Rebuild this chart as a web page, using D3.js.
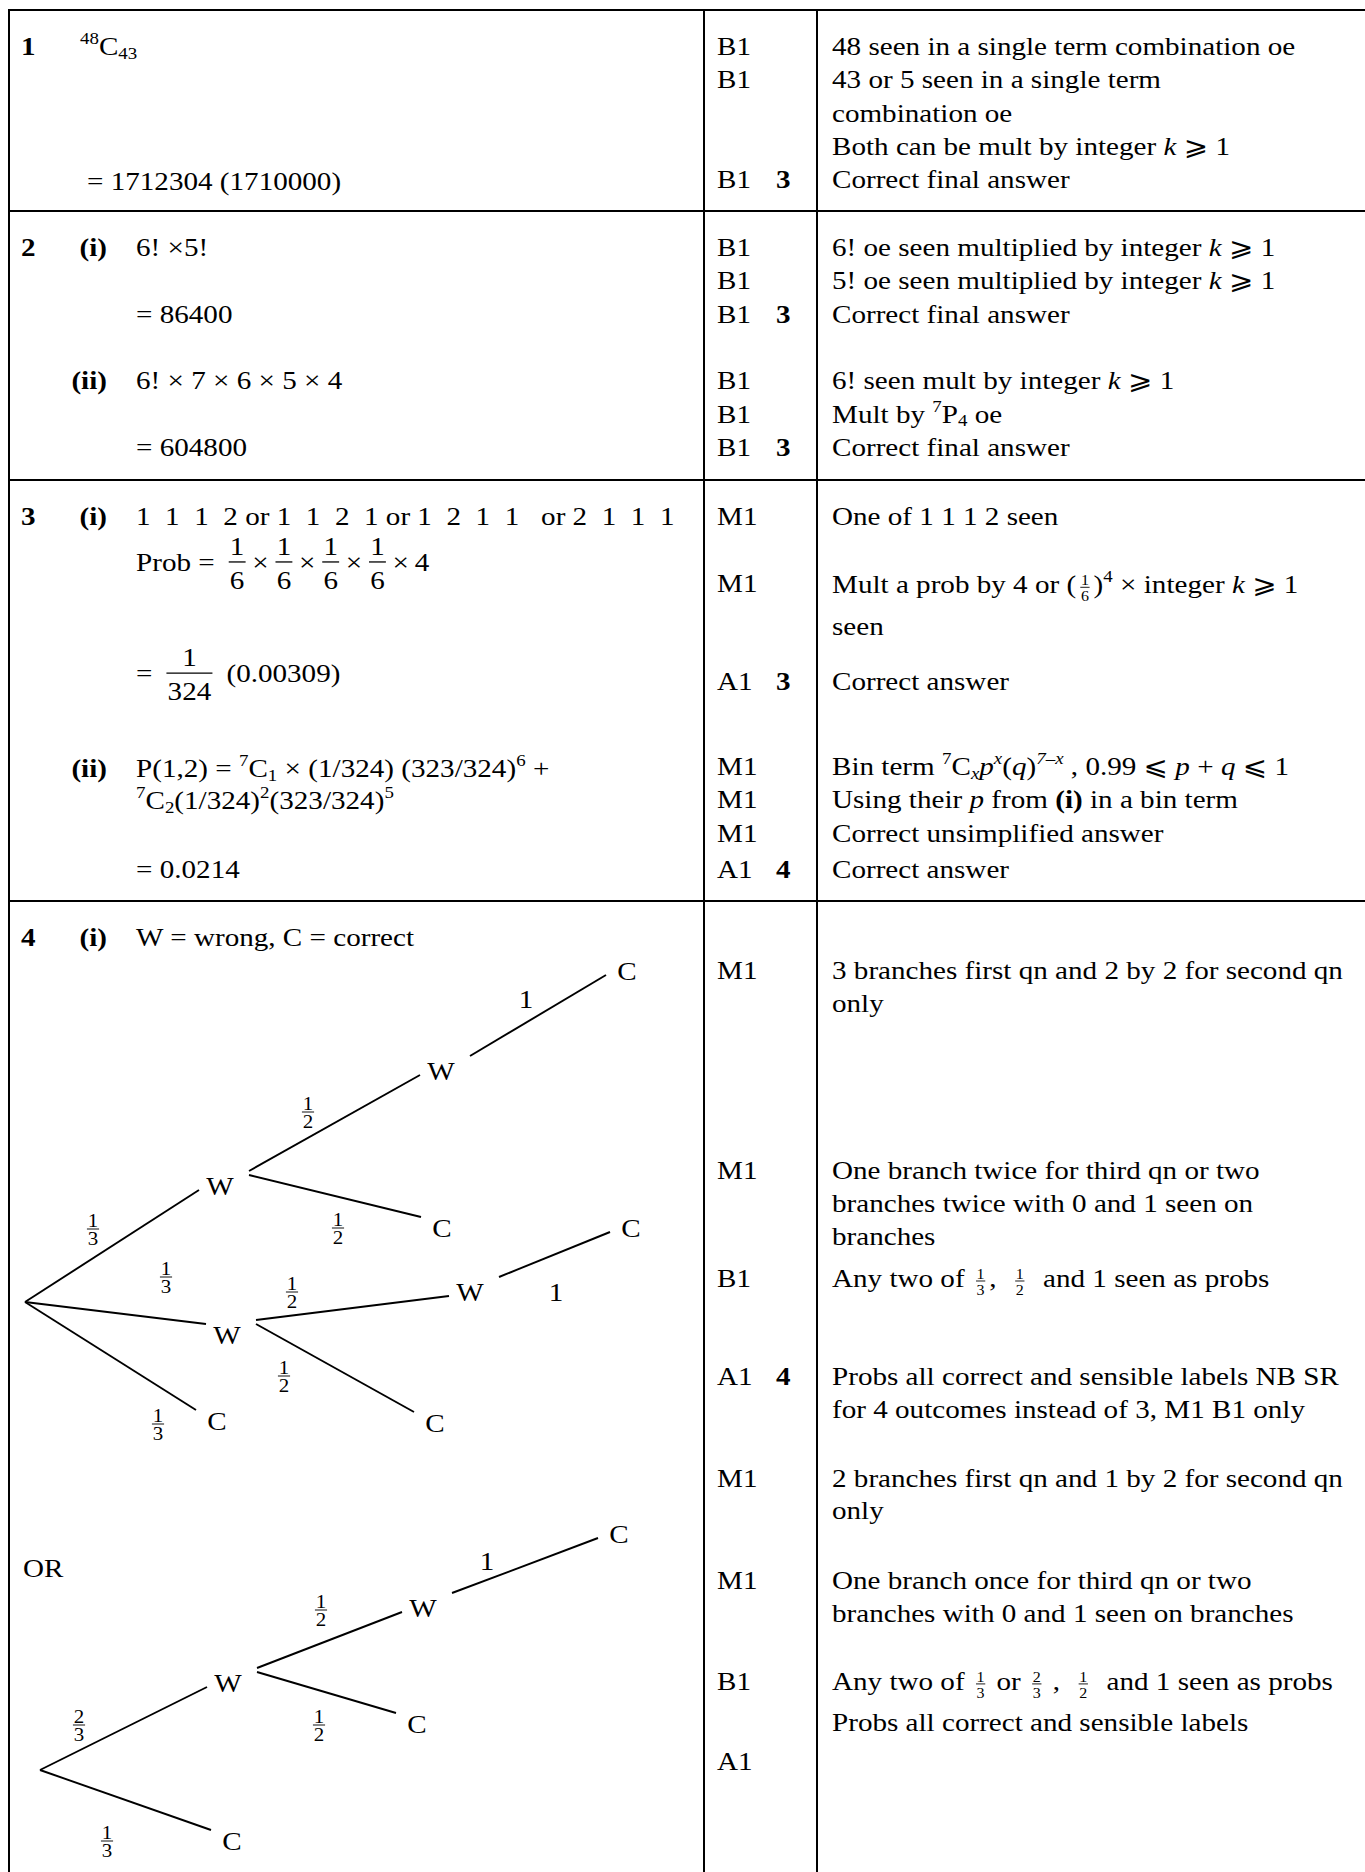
<!DOCTYPE html>
<html>
<head>
<meta charset="utf-8">
<script src="https://cdn.jsdelivr.net/npm/d3@7"></script>
<style>
  html, body { margin: 0; padding: 0; background: #fff; }
  svg { display: block; }
  text { font-family: "Liberation Serif", "Times New Roman", "DejaVu Serif", "DejaVu Sans", serif; white-space: pre; fill: #000; }
</style>
</head>
<body>
<div id="chart"></div>
<script>
// ---- data ----
// markup: {i:..} italic, {b:..} bold, {^:..} sup, {_:..} sub, {f:a/b} small fraction, {F:a/b} big fraction
const questionNums = ["1", "2", "3", "4"];

const partLabels = [
  { row: 1, slot: 0, text: "(i)" },
  { row: 1, slot: 4, text: "(ii)" },
  { row: 2, slot: 0, text: "(i)" },
  { row: 2, slot: 7.57, text: "(ii)" },
  { row: 3, slot: 0, text: "(i)" }
];

const workings = [
  { row: 0, slot: 0, col: "q1", text: "{^:48}C{_:43}" },
  { row: 0, slot: 4.05, col: "q1eq", text: "= 1712304 (1710000)" },
  { row: 1, slot: 0, col: "work", text: "6! ×5!" },
  { row: 1, slot: 2, col: "work", text: "= 86400" },
  { row: 1, slot: 4, col: "work", text: "6! × 7 × 6 × 5 × 4" },
  { row: 1, slot: 6, col: "work", text: "= 604800" },
  { row: 2, slot: 0, col: "work", text: "1  1  1  2 or 1  1  2  1 or 1  2  1  1   or 2  1  1  1" },
  { row: 2, slot: 1.38, col: "work", text: "Prob = {F:1/6}×{F:1/6}×{F:1/6}×{F:1/6}×\u20094" },
  { row: 2, slot: 4.72, col: "work", text: "= {F:1/324} (0.00309)" },
  { row: 2, slot: 7.57, col: "work", text: "P(1,2) = {^:7}C{_:1} × (1/324) (323/324){^:6} +" },
  { row: 2, slot: 8.52, col: "work", text: "{^:7}C{_:2}(1/324){^:2}(323/324){^:5}" },
  { row: 2, slot: 10.6, col: "work", text: "= 0.0214" },
  { row: 3, slot: 0, col: "work", text: "W = wrong, C = correct" },
  { row: 3, slot: 18.95, col: "or", text: "OR" }
];

const marks = [
  { row: 0, slot: 0, mark: "B1" },
  { row: 0, slot: 1, mark: "B1" },
  { row: 0, slot: 4, mark: "B1", total: "3" },
  { row: 1, slot: 0, mark: "B1" },
  { row: 1, slot: 1, mark: "B1" },
  { row: 1, slot: 2, mark: "B1", total: "3" },
  { row: 1, slot: 4, mark: "B1" },
  { row: 1, slot: 5, mark: "B1" },
  { row: 1, slot: 6, mark: "B1", total: "3" },
  { row: 2, slot: 0, mark: "M1" },
  { row: 2, slot: 2, mark: "M1" },
  { row: 2, slot: 4.95, mark: "A1", total: "3" },
  { row: 2, slot: 7.5, mark: "M1" },
  { row: 2, slot: 8.5, mark: "M1" },
  { row: 2, slot: 9.52, mark: "M1" },
  { row: 2, slot: 10.6, mark: "A1", total: "4" },
  { row: 3, slot: 0.99, mark: "M1" },
  { row: 3, slot: 7.0, mark: "M1" },
  { row: 3, slot: 10.24, mark: "B1" },
  { row: 3, slot: 13.18, mark: "A1", total: "4" },
  { row: 3, slot: 16.25, mark: "M1" },
  { row: 3, slot: 19.3, mark: "M1" },
  { row: 3, slot: 22.34, mark: "B1" },
  { row: 3, slot: 24.75, mark: "A1" }
];

const notes = [
  { row: 0, slot: 0, text: "48 seen in a single term combination oe" },
  { row: 0, slot: 1, text: "43 or 5 seen in a single term" },
  { row: 0, slot: 2, text: "combination oe" },
  { row: 0, slot: 3, text: "Both can be mult by integer {i:k} \u2A7E 1" },
  { row: 0, slot: 4, text: "Correct final answer" },
  { row: 1, slot: 0, text: "6! oe seen multiplied by integer {i:k} \u2A7E 1" },
  { row: 1, slot: 1, text: "5! oe seen multiplied by integer {i:k} \u2A7E 1" },
  { row: 1, slot: 2, text: "Correct final answer" },
  { row: 1, slot: 4, text: "6! seen mult by integer {i:k} \u2A7E 1" },
  { row: 1, slot: 5, text: "Mult by {^:7}P{_:4} oe" },
  { row: 1, slot: 6, text: "Correct final answer" },
  { row: 2, slot: 0, text: "One of 1 1 1 2 seen" },
  { row: 2, slot: 2.05, text: "Mult a prob by 4 or ({f:1/6}){^:4} × integer {i:k} \u2A7E 1" },
  { row: 2, slot: 3.3, text: "seen" },
  { row: 2, slot: 4.95, text: "Correct answer" },
  { row: 2, slot: 7.5, text: "Bin term {^:7}C{_i:x}{i:p}{^i:x}({i:q}){^i:7–x} , 0.99 \u2A7D {i:p} + {i:q} \u2A7D 1" },
  { row: 2, slot: 8.5, text: "Using their {i:p} from {b:(i)} in a bin term" },
  { row: 2, slot: 9.52, text: "Correct unsimplified answer" },
  { row: 2, slot: 10.6, text: "Correct answer" },
  { row: 3, slot: 0.99, text: "3 branches first qn and 2 by 2 for second qn" },
  { row: 3, slot: 1.98, text: "only" },
  { row: 3, slot: 7.0, text: "One branch twice for third qn or two" },
  { row: 3, slot: 7.99, text: "branches twice with 0 and 1 seen on" },
  { row: 3, slot: 8.98, text: "branches" },
  { row: 3, slot: 10.24, text: "Any two of {f:1/3},  {f:1/2}  and 1 seen as probs" },
  { row: 3, slot: 13.18, text: "Probs all correct and sensible labels NB SR" },
  { row: 3, slot: 14.17, text: "for 4 outcomes instead of 3, M1 B1 only" },
  { row: 3, slot: 16.25, text: "2 branches first qn and 1 by 2 for second qn" },
  { row: 3, slot: 17.2, text: "only" },
  { row: 3, slot: 19.3, text: "One branch once for third qn or two" },
  { row: 3, slot: 20.29, text: "branches with 0 and 1 seen on branches" },
  { row: 3, slot: 22.34, text: "Any two of {f:1/3} or {f:2/3} ,  {f:1/2}  and 1 seen as probs" },
  { row: 3, slot: 23.56, text: "Probs all correct and sensible labels" }
];

// tree diagrams: nodes, branches and their probabilities
const tree1Nodes = [
  { id: "r", label: "" }, { id: "w", label: "W" }, { id: "w2", label: "W" }, { id: "c", label: "C" },
  { id: "ww", label: "W" }, { id: "wc", label: "C" }, { id: "wwc", label: "C" },
  { id: "w2w", label: "W" }, { id: "w2c", label: "C" }, { id: "w2wc", label: "C" }
];
const tree1Edges = [
  { from: "r", to: "w", p: "1/3" }, { from: "r", to: "w2", p: "1/3" }, { from: "r", to: "c", p: "1/3" },
  { from: "w", to: "ww", p: "1/2" }, { from: "w", to: "wc", p: "1/2" }, { from: "ww", to: "wwc", p: "1" },
  { from: "w2", to: "w2w", p: "1/2" }, { from: "w2", to: "w2c", p: "1/2" }, { from: "w2w", to: "w2wc", p: "1" }
];
const tree2Nodes = [
  { id: "r", label: "" }, { id: "w", label: "W" }, { id: "c", label: "C" },
  { id: "ww", label: "W" }, { id: "wc", label: "C" }, { id: "wwc", label: "C" }
];
const tree2Edges = [
  { from: "r", to: "w", p: "2/3" }, { from: "r", to: "c", p: "1/3" },
  { from: "w", to: "ww", p: "1/2" }, { from: "w", to: "wc", p: "1/2" }, { from: "ww", to: "wwc", p: "1" }
];

// ---- layout ----
const W = 1365, H = 1872;
const FS = 26;      // text size
const SX = 1.12;    // page scan is a little wider than tall
const LH = 33.3;    // line pitch

const rowTops = [10, 211, 480, 901];
const colLines = [9, 704, 817];

const colX = d3.scaleOrdinal()
  .domain(["num", "part", "q1", "q1eq", "work", "or", "mark", "total", "note"])
  .range([21, 107, 80, 87, 136, 23, 717, 776, 832]);
const slotY = d3.scaleLinear().domain([0, 1]).range([45, 45 + LH]);
const yOf = d => rowTops[d.row] + slotY(d.slot);

// node label centre x / baseline y, and where each branch's probability sits
const tree1Pos = { r: [25, 1302], w: [220, 1195], w2: [227, 1344], c: [217, 1430], ww: [441, 1080],
  wc: [442, 1237], wwc: [627, 980], w2w: [470, 1301], w2c: [435, 1432], w2wc: [631, 1237] };
const tree1ProbPos = { w: [93, 1229], w2: [166, 1277], c: [158, 1424], ww: [308, 1112], wc: [338, 1228],
  wwc: [526, 999], w2w: [292, 1292], w2c: [284, 1376], w2wc: [556, 1292] };
const tree2Pos = { r: [40, 1770], w: [228, 1692], c: [232, 1850], ww: [423, 1617], wc: [417, 1733], wwc: [619, 1543] };
const tree2ProbPos = { w: [79, 1725], c: [107, 1841], ww: [321, 1610], wc: [319, 1725], wwc: [487, 1561] };

const svg = d3.select("#chart").append("svg").attr("width", W).attr("height", H);
svg.append("rect").attr("width", W).attr("height", H).attr("fill", "#fff");

// ---- rich text helpers ----
function tokens(str) {
  const re = /\{([ib^_fF]+):([^}]*)\}/g;
  const out = [];
  let last = 0, m;
  while ((m = re.exec(str)) !== null) {
    if (m.index > last) out.push({ mods: "", t: str.slice(last, m.index) });
    out.push({ mods: m[1], t: m[2] });
    last = re.lastIndex;
  }
  if (last < str.length) out.push({ mods: "", t: str.slice(last) });
  return out;
}

function plain(g, x, y, t, size, mods) {
  const el = g.append("text")
    .attr("x", x).attr("y", y)
    .style("font-size", size + "px")
    .style("font-style", mods.includes("i") ? "italic" : "normal")
    .style("font-weight", mods.includes("b") ? "bold" : "normal")
    .text(t);
  return el.node().getComputedTextLength();
}

function fraction(g, x, bar, t, size, pad, numGap, denGap, centred) {
  const [n, d] = t.split("/");
  const num = g.append("text").attr("text-anchor", "middle").attr("y", bar - numGap)
    .style("font-size", size + "px").text(n);
  const den = g.append("text").attr("text-anchor", "middle").attr("y", bar + denGap)
    .style("font-size", size + "px").text(d);
  const w = Math.max(num.node().getComputedTextLength(), den.node().getComputedTextLength()) + size * 0.08;
  const cx = centred ? x : x + pad + w / 2;
  num.attr("x", cx);
  den.attr("x", cx);
  g.append("line")
    .attr("x1", cx - w / 2).attr("x2", cx + w / 2)
    .attr("y1", bar).attr("y2", bar)
    .attr("stroke", "#000").attr("stroke-width", Math.max(0.9, size * 0.05));
  return w + 2 * pad;
}

function rich(parent, x, y, str, anchor) {
  const g = parent.append("g");
  let cx = 0;
  tokens(str).forEach(tok => {
    const m = tok.mods;
    if (m.includes("F")) cx += fraction(g, cx, -9, tok.t, FS, 6, 7, 27);
    else if (m.includes("f")) cx += fraction(g, cx, -6, tok.t, FS * 0.55, 3.6, 2, FS * 0.55 * 0.68 + 4);
    else if (m.includes("^")) cx += plain(g, cx, -FS * 0.42, tok.t, FS * 0.65, m);
    else if (m.includes("_")) cx += plain(g, cx, FS * 0.15, tok.t, FS * 0.65, m);
    else cx += plain(g, cx, 0, tok.t, FS, m);
  });
  const w = cx * SX;
  const x0 = anchor === "end" ? x - w : anchor === "middle" ? x - w / 2 : x;
  g.attr("transform", `translate(${x0},${y}) scale(${SX},1)`);
  return w;
}

// ---- table rules ----
svg.append("g").selectAll("line").data(rowTops).join("line")
  .attr("x1", colLines[0]).attr("x2", W)
  .attr("y1", d => d).attr("y2", d => d)
  .attr("stroke", "#000").attr("stroke-width", 2);
svg.append("g").selectAll("line").data(colLines).join("line")
  .attr("x1", d => d).attr("x2", d => d)
  .attr("y1", rowTops[0] - 1).attr("y2", H)
  .attr("stroke", "#000").attr("stroke-width", 2);

// ---- cells ----
const body = svg.append("g");
questionNums.forEach((q, i) => rich(body, colX("num"), yOf({ row: i, slot: 0 }), `{b:${q}}`));
partLabels.forEach(d => rich(body, colX("part"), yOf(d), `{b:${d.text}}`, "end"));
workings.forEach(d => rich(body, colX(d.col), yOf(d), d.text));
marks.forEach(d => {
  rich(body, colX("mark"), yOf(d), d.mark);
  if (d.total) rich(body, colX("total"), yOf(d), `{b:${d.total}}`);
});
notes.forEach(d => rich(body, colX("note"), yOf(d), d.text));

// ---- tree diagrams ----
function drawTree(nodes, edges, pos, probPos) {
  const g = svg.append("g");
  const isRoot = id => !nodes.find(n => n.id === id).label;
  const ends = e => {
    const [x0, y0] = pos[e.from], [x1, y1] = pos[e.to];
    const up = y1 < y0;
    return [
      isRoot(e.from) ? x0 : x0 + 29,
      isRoot(e.from) ? y0 : y0 - (up ? 24 : 20),
      x1 - 21,
      y1 - (up ? 5 : 20)
    ];
  };
  g.selectAll("line").data(edges).join("line")
    .attr("x1", d => ends(d)[0]).attr("y1", d => ends(d)[1])
    .attr("x2", d => ends(d)[2]).attr("y2", d => ends(d)[3])
    .attr("stroke", "#000").attr("stroke-width", 1.9);

  nodes.filter(n => n.label).forEach(n => rich(g, pos[n.id][0], pos[n.id][1], n.label, "middle"));

  edges.forEach(e => {
    const [x, y] = probPos[e.to];
    if (e.p.includes("/")) {
      const fg = g.append("g").attr("transform", `translate(${x},0) scale(${SX},1)`);
      const fs = FS * 0.72;
      fraction(fg, 0, y, e.p, fs, 0, 2, fs * 0.68 + 3, true);
    } else {
      rich(g, x, y + 9, e.p, "middle");
    }
  });
}

drawTree(tree1Nodes, tree1Edges, tree1Pos, tree1ProbPos);
drawTree(tree2Nodes, tree2Edges, tree2Pos, tree2ProbPos);
</script>
</body>
</html>
